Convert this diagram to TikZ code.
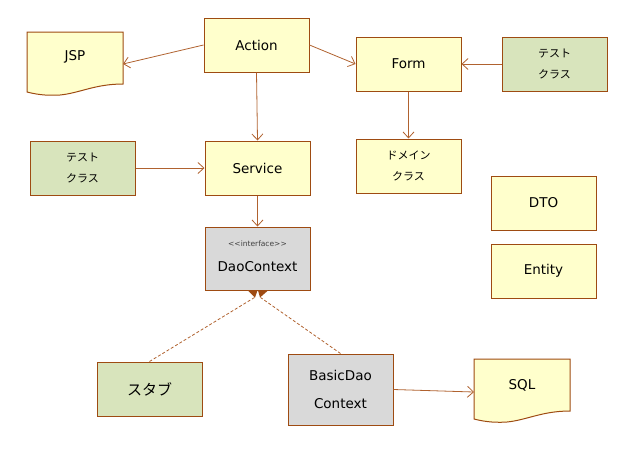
\documentclass[tikz,border=0pt]{standalone}
\usepackage{fontspec}
\setmainfont{DejaVu Sans}
\newfontfamily\jp{Noto Sans CJK JP}
\usetikzlibrary{arrows.meta}
\definecolor{edge}{HTML}{9E4B12}
\definecolor{link}{HTML}{B0622F}
\definecolor{yel}{HTML}{FFFFCC}
\definecolor{grn}{HTML}{D8E4BC}
\definecolor{gry}{HTML}{D9D9D9}
\tikzset{
  box/.style={draw=edge, line width=1pt, minimum width=105pt, minimum height=54pt, inner sep=0pt, font=\fontsize{13.5}{16}\selectfont, align=center},
  ybox/.style={box, fill=yel},
  jbox/.style={box, fill=grn, font=\jp\fontsize{11}{21}\selectfont},
  conn/.style={draw=link, line width=0.8pt, -{Straight Barb[length=6pt,width=11pt]}},
  impl/.style={draw=link, line width=0.8pt, dash pattern=on 3pt off 2pt},
  head/.style={fill=edge},
}
\begin{document}
\begin{tikzpicture}[x=1pt,y=-1pt]
\useasboundingbox (0,0) rectangle (617,459);
% document shapes
\draw[draw=edge, line width=1pt, fill=yel] (27,32) -- (123,32) -- (123,84) .. controls (95,84) and (80,93) .. (60,95) .. controls (45,96) and (35,94) .. (27,92) -- cycle;
\node[font=\fontsize{13.5}{16}\selectfont] (jsp) at (75,57) {JSP};
\coordinate (jspR) at (123,64);
\draw[draw=edge, line width=1pt, fill=yel] (474,359) -- (570,359) -- (570,411) .. controls (542,411) and (527,420) .. (507,422) .. controls (492,423) and (482,421) .. (474,419) -- cycle;
\node[font=\fontsize{13.5}{16}\selectfont] (sql) at (522,385) {SQL};
\coordinate (sqlL) at (474,392);

\node[ybox] (action) at (256.5,45) {Action};
\node[ybox] (form) at (408.5,64) {Form};
\node[jbox] (test1) at (554.5,64) {テスト\\クラス};
\node[jbox] (test2) at (82.5,168) {テスト\\クラス};
\node[ybox] (service) at (257.5,168) {Service};
\node[ybox, font=\jp\fontsize{11}{21}\selectfont] (domain) at (408.5,166) {ドメイン\\クラス};
\node[ybox] (dto) at (543.5,203) {DTO};
\node[ybox] (entity) at (543.5,271) {Entity};
\node[box, fill=gry, minimum height=63pt] (dao) at (257.5,258.5) {};
\node[font=\fontsize{7.5}{9}\selectfont, text=black!75] (daoi) at (257.5,244) {<\kern0pt<interface>\kern0pt>};
\node[font=\fontsize{13.5}{16}\selectfont] (daon) at (257.5,267) {DaoContext};
\node[box, fill=grn, font=\jp\fontsize{15}{18}\selectfont] (stub) at (149.5,389) {スタブ};
\node[box, fill=gry, minimum height=71pt, font=\fontsize{13.5}{28}\selectfont] (basic) at (340.5,389.5) {BasicDao\\Context};

\draw[conn] (action.west) -- (jspR);
\draw[conn] (action.east) -- (form.west);
\draw[conn] (action.south) -- (service.north);
\draw[conn] (test2.east) -- (service.west);
\draw[conn] (service.south) -- (dao.north);
\draw[conn] (form.south) -- (domain.north);
\draw[conn] (test1.west) -- (form.east);
\draw[conn] (basic.east) -- (sqlL);
\draw[impl] (stub.north) -- ([xshift=-3pt,yshift=-7pt]dao.south);
\draw[impl] (basic.north) -- ([xshift=3pt,yshift=-7pt]dao.south);
\fill[head] ([xshift=-9.5pt]dao.south) -- ([xshift=0pt]dao.south) -- ([xshift=-2.5pt,yshift=-7pt]dao.south) -- cycle;
\fill[head] ([xshift=0.5pt]dao.south) -- ([xshift=10.5pt]dao.south) -- ([xshift=2.5pt,yshift=-7pt]dao.south) -- cycle;
\end{tikzpicture}
\end{document}
